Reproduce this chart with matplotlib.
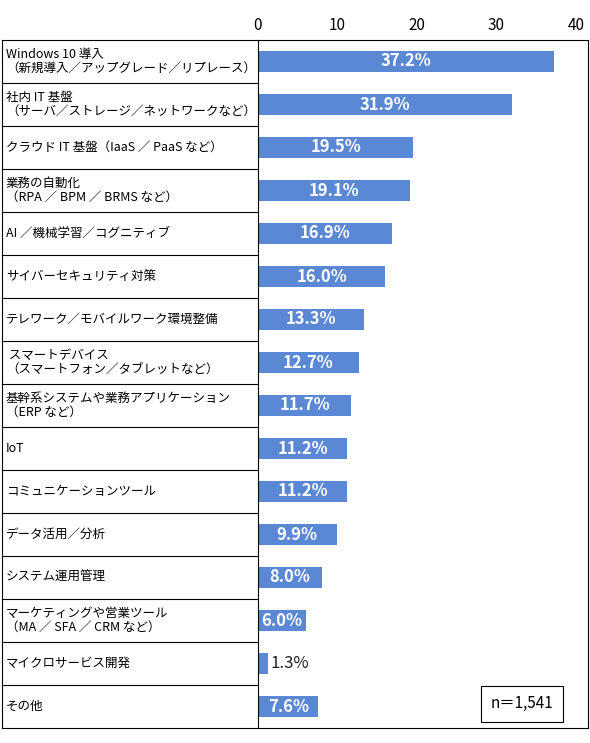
import matplotlib.pyplot as plt
from matplotlib.lines import Line2D

plt.rcParams['font.family'] = ['Noto Sans CJK JP', 'DejaVu Sans']

labels = [
    "Windows 10 導入\n（新規導入／アップグレード／リプレース）",
    "社内 IT 基盤\n（サーバ／ストレージ／ネットワークなど）",
    "クラウド IT 基盤（IaaS ／ PaaS など）",
    "業務の自動化\n（RPA ／ BPM ／ BRMS など）",
    "AI ／機械学習／コグニティブ",
    "サイバーセキュリティ対策",
    "テレワーク／モバイルワーク環境整備",
    " スマートデバイス\n（スマートフォン／タブレットなど）",
    "基幹系システムや業務アプリケーション\n（ERP など）",
    "IoT",
    "コミュニケーションツール",
    "データ活用／分析",
    "システム運用管理",
    "マーケティングや営業ツール\n（MA ／ SFA ／ CRM など）",
    "マイクロサービス開発",
    "その他",
]
values = [37.2, 31.9, 19.5, 19.1, 16.9, 16.0, 13.3, 12.7, 11.7, 11.2, 11.2, 9.9, 8.0, 6.0, 1.3, 7.6]
ticks = [0, 10, 20, 30, 40]

W, H = 590, 743
fig = plt.figure(figsize=(W / 100, H / 100), dpi=100)
x0, x1, y0, y1 = 258, 588, 40, 728
ax = fig.add_axes([x0 / W, 1 - y1 / H, (x1 - x0) / W, (y1 - y0) / H])

n = len(values)
pos = list(range(n))
color = '#5B88D4'
ax.barh(pos, values, height=0.48, color=color)
ax.set_ylim(n - 0.5, -0.5)
ax.set_xlim(0, 40 * (x1 - x0) / (576 - x0))
ax.set_yticks([])
ax.set_xticks(ticks)
ax.xaxis.tick_top()
ax.tick_params(axis='x', length=0, labelsize=11, pad=4)
for s in ax.spines.values():
    s.set_linewidth(0.8)

for i, v in enumerate(values):
    if v < 3:
        ax.text(v + 0.3, i, f"{v:.1f}%", va='center', ha='left', fontsize=12, color='#222222')
    else:
        ax.text(v / 2, i, f"{v:.1f}%", va='center', ha='center', fontsize=12,
                color='white', fontweight='bold')

# label column box and row lines
lx = 2
row_h = (y1 - y0) / n
fig.add_artist(Line2D([lx / W, lx / W], [1 - y0 / H, 1 - y1 / H], color='black', lw=0.8))
for k in range(n + 1):
    yy = 1 - (y0 + k * row_h) / H
    fig.add_artist(Line2D([lx / W, x0 / W], [yy, yy], color='black', lw=0.8))
for i, lab in enumerate(labels):
    yy = 1 - (y0 + (i + 0.5) * row_h) / H
    fig.text(6 / W, yy, lab, va='center', ha='left', fontsize=9, linespacing=1.15)

ax.text(0.8, 0.035, "n＝1,541", transform=ax.transAxes, ha='center', va='center', fontsize=11,
        bbox=dict(boxstyle='square,pad=0.6', fc='white', ec='black', lw=0.8))

fig.savefig('out.png', dpi=100)
